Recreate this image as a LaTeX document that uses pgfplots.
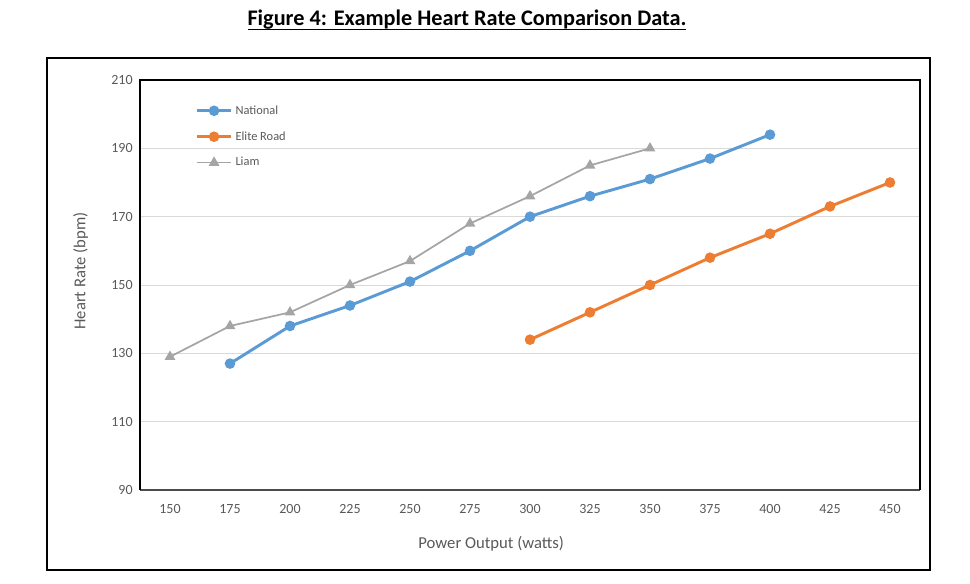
\documentclass[border=0pt]{standalone}
\usepackage{pgfplots}
\pgfplotsset{compat=1.18}
\usepackage{fontspec}
\setmainfont{Carlito}
\definecolor{cblue}{RGB}{91,155,213}
\definecolor{corange}{RGB}{237,125,49}
\definecolor{cgray}{RGB}{165,165,165}
\definecolor{ctext}{RGB}{89,89,89}
\definecolor{cgrid}{RGB}{217,217,217}
\begin{document}
\begin{tikzpicture}[x=0.75pt,y=0.75pt]
\path (0,0) rectangle (970,583);
\draw[line width=1.1pt,black] (47,13) rectangle (930,525);
\node[font=\bfseries\fontsize{16.7}{19}\selectfont,anchor=center] (t) at (467,563) {Figure 4: Example Heart Rate Comparison Data.};
\draw[line width=1.3pt] (248,553.5) -- (686,553.5);
\begin{axis}[
  at={(140*0.75pt,93*0.75pt)}, anchor=south west,
  scale only axis, width=585pt, height=307.5pt,
  xmin=137.5, xmax=462.5, ymin=90, ymax=210,
  xtick={150,175,...,450}, ytick={90,110,...,210},
  major tick length=0pt,
  axis line style={draw=none},
  ymajorgrids, grid style={cgrid, line width=0.6pt},
  tick label style={font=\fontsize{10.5}{12}\selectfont, text=ctext},
  /pgf/number format/assume math mode=true,
  xticklabel style={yshift=-7pt},
  yticklabel style={xshift=-2pt},
  xlabel={Power Output (watts)}, ylabel={Heart Rate (bpm)},
  label style={font=\fontsize{12.5}{14}\selectfont, text=ctext},
  xlabel style={at={(rel axis cs:0.4503,0)}, anchor=north, yshift=-31pt},
  ylabel style={at={(rel axis cs:0,0.5341)}, anchor=south, yshift=35.5pt},
  legend style={at={(0.0705,0.945)}, anchor=north west, draw=none, fill=none,
    font=\fontsize{9.3}{11}\selectfont, text=ctext, row sep=7.5pt, inner sep=0pt,
    /tikz/every even column/.append style={column sep=0pt}},
  legend cell align=left,
  legend image code/.code={\draw[#1] (0pt,0pt) -- (26pt,0pt); \path[#1,mark repeat=1] plot coordinates {(13pt,0pt)};},
  clip=false,
]
\addplot[cblue, line width=2.2pt, mark=*, mark size=2.8pt, mark options={solid,fill=cblue,draw=cblue}] coordinates {
(175,127) (200,138) (225,144) (250,151) (275,160) (300,170) (325,176) (350,181) (375,187) (400,194)};
\addlegendentry{National}
\addplot[corange, line width=2.2pt, mark=*, mark size=2.8pt, mark options={solid,fill=corange,draw=corange}] coordinates {
(300,134) (325,142) (350,150) (375,158) (400,165) (425,173) (450,180)};
\addlegendentry{Elite Road}
\addplot[cgray, line width=1.3pt, mark=triangle*, mark size=3.4pt, mark options={solid,fill=cgray,draw=cgray}] coordinates {
(150,129) (175,138) (200,142) (225,150) (250,157) (275,168) (300,176) (325,185) (350,190)};
\addlegendentry{Liam}
\draw[line width=0.9pt, black!70] (rel axis cs:0,0) -- (rel axis cs:1,0);
\draw[line width=2pt, black] (rel axis cs:0,0) -- (rel axis cs:0,1) -- (rel axis cs:1,1) -- (rel axis cs:1,0);
\end{axis}
\end{tikzpicture}
\end{document}
